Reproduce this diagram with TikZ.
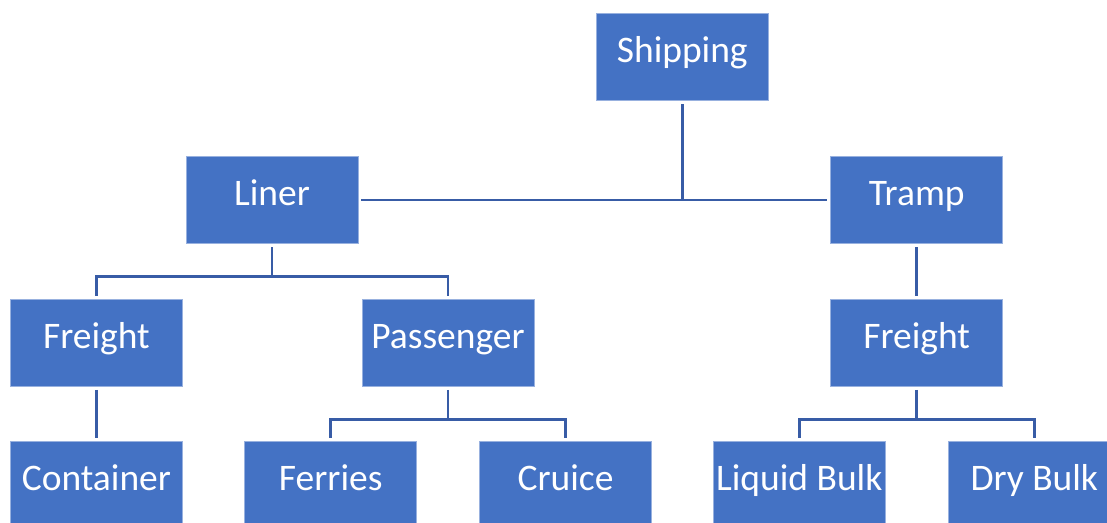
\documentclass[tikz,border=0pt]{standalone}
\usepackage{fontspec}
\setmainfont{Carlito}
\usetikzlibrary{calc}
\definecolor{boxblue}{RGB}{68,114,196}
\definecolor{lineblue}{RGB}{56,92,166}
\begin{document}
\begin{tikzpicture}[x=1pt,y=-1pt,
  box/.style={fill=boxblue, draw=boxblue!55!white, line width=0.8pt,
    minimum width=172pt, minimum height=87.5pt, inner sep=0pt, text=white,
    font=\fontsize{37.5}{45}\selectfont, text height=27pt, text depth=16pt},
  conn/.style={draw=lineblue, line width=2.8pt, shorten <=3pt, shorten >=3pt}]
  \useasboundingbox (0,0) rectangle (1107,522);
  \clip (0,0) rectangle (1107,522);
  \node[box] (ship) at (682.3,57) {Shipping};
  \node[box] (liner) at (272,200) {Liner};
  \node[box] (tramp) at (916.7,200) {Tramp};
  \node[box] (lfreight) at (96.4,342.7) {Freight};
  \node[box] (pass) at (448,342.7) {Passenger};
  \node[box] (rfreight) at (916.7,342.7) {Freight};
  \node[box] (cont) at (96.4,485) {Container};
  \node[box] (ferries) at (330.7,485) {Ferries};
  \node[box] (cruice) at (565.5,485) {Cruice};
  \node[box] (liquid) at (799.3,485) {Liquid Bulk};
  \node[box] (dry) at (1034.3,485) {Dry Bulk};
  \draw[conn] (liner.east) -- (tramp.west);
  \draw[conn, shorten >=0pt] (ship.south) -- (ship.south |- liner.east);
  \coordinate (lbus) at ($(liner.south)+(0,32.3)$);
  \draw[conn, shorten >=0pt] (liner.south) -- (lbus);
  \draw[conn] (lfreight.north) |- (lbus) -| (pass.north);
  \draw[conn] (lfreight.south) -- (cont.north);
  \coordinate (pbus) at ($(pass.south)+(0,33)$);
  \draw[conn, shorten >=0pt] (pass.south) -- (pbus);
  \draw[conn] (ferries.north) |- (pbus) -| (cruice.north);
  \draw[conn] (tramp.south) -- (rfreight.north);
  \coordinate (rbus) at ($(rfreight.south)+(0,33)$);
  \draw[conn, shorten >=0pt] (rfreight.south) -- (rbus);
  \draw[conn] (liquid.north) |- (rbus) -| (dry.north);
\end{tikzpicture}
\end{document}
